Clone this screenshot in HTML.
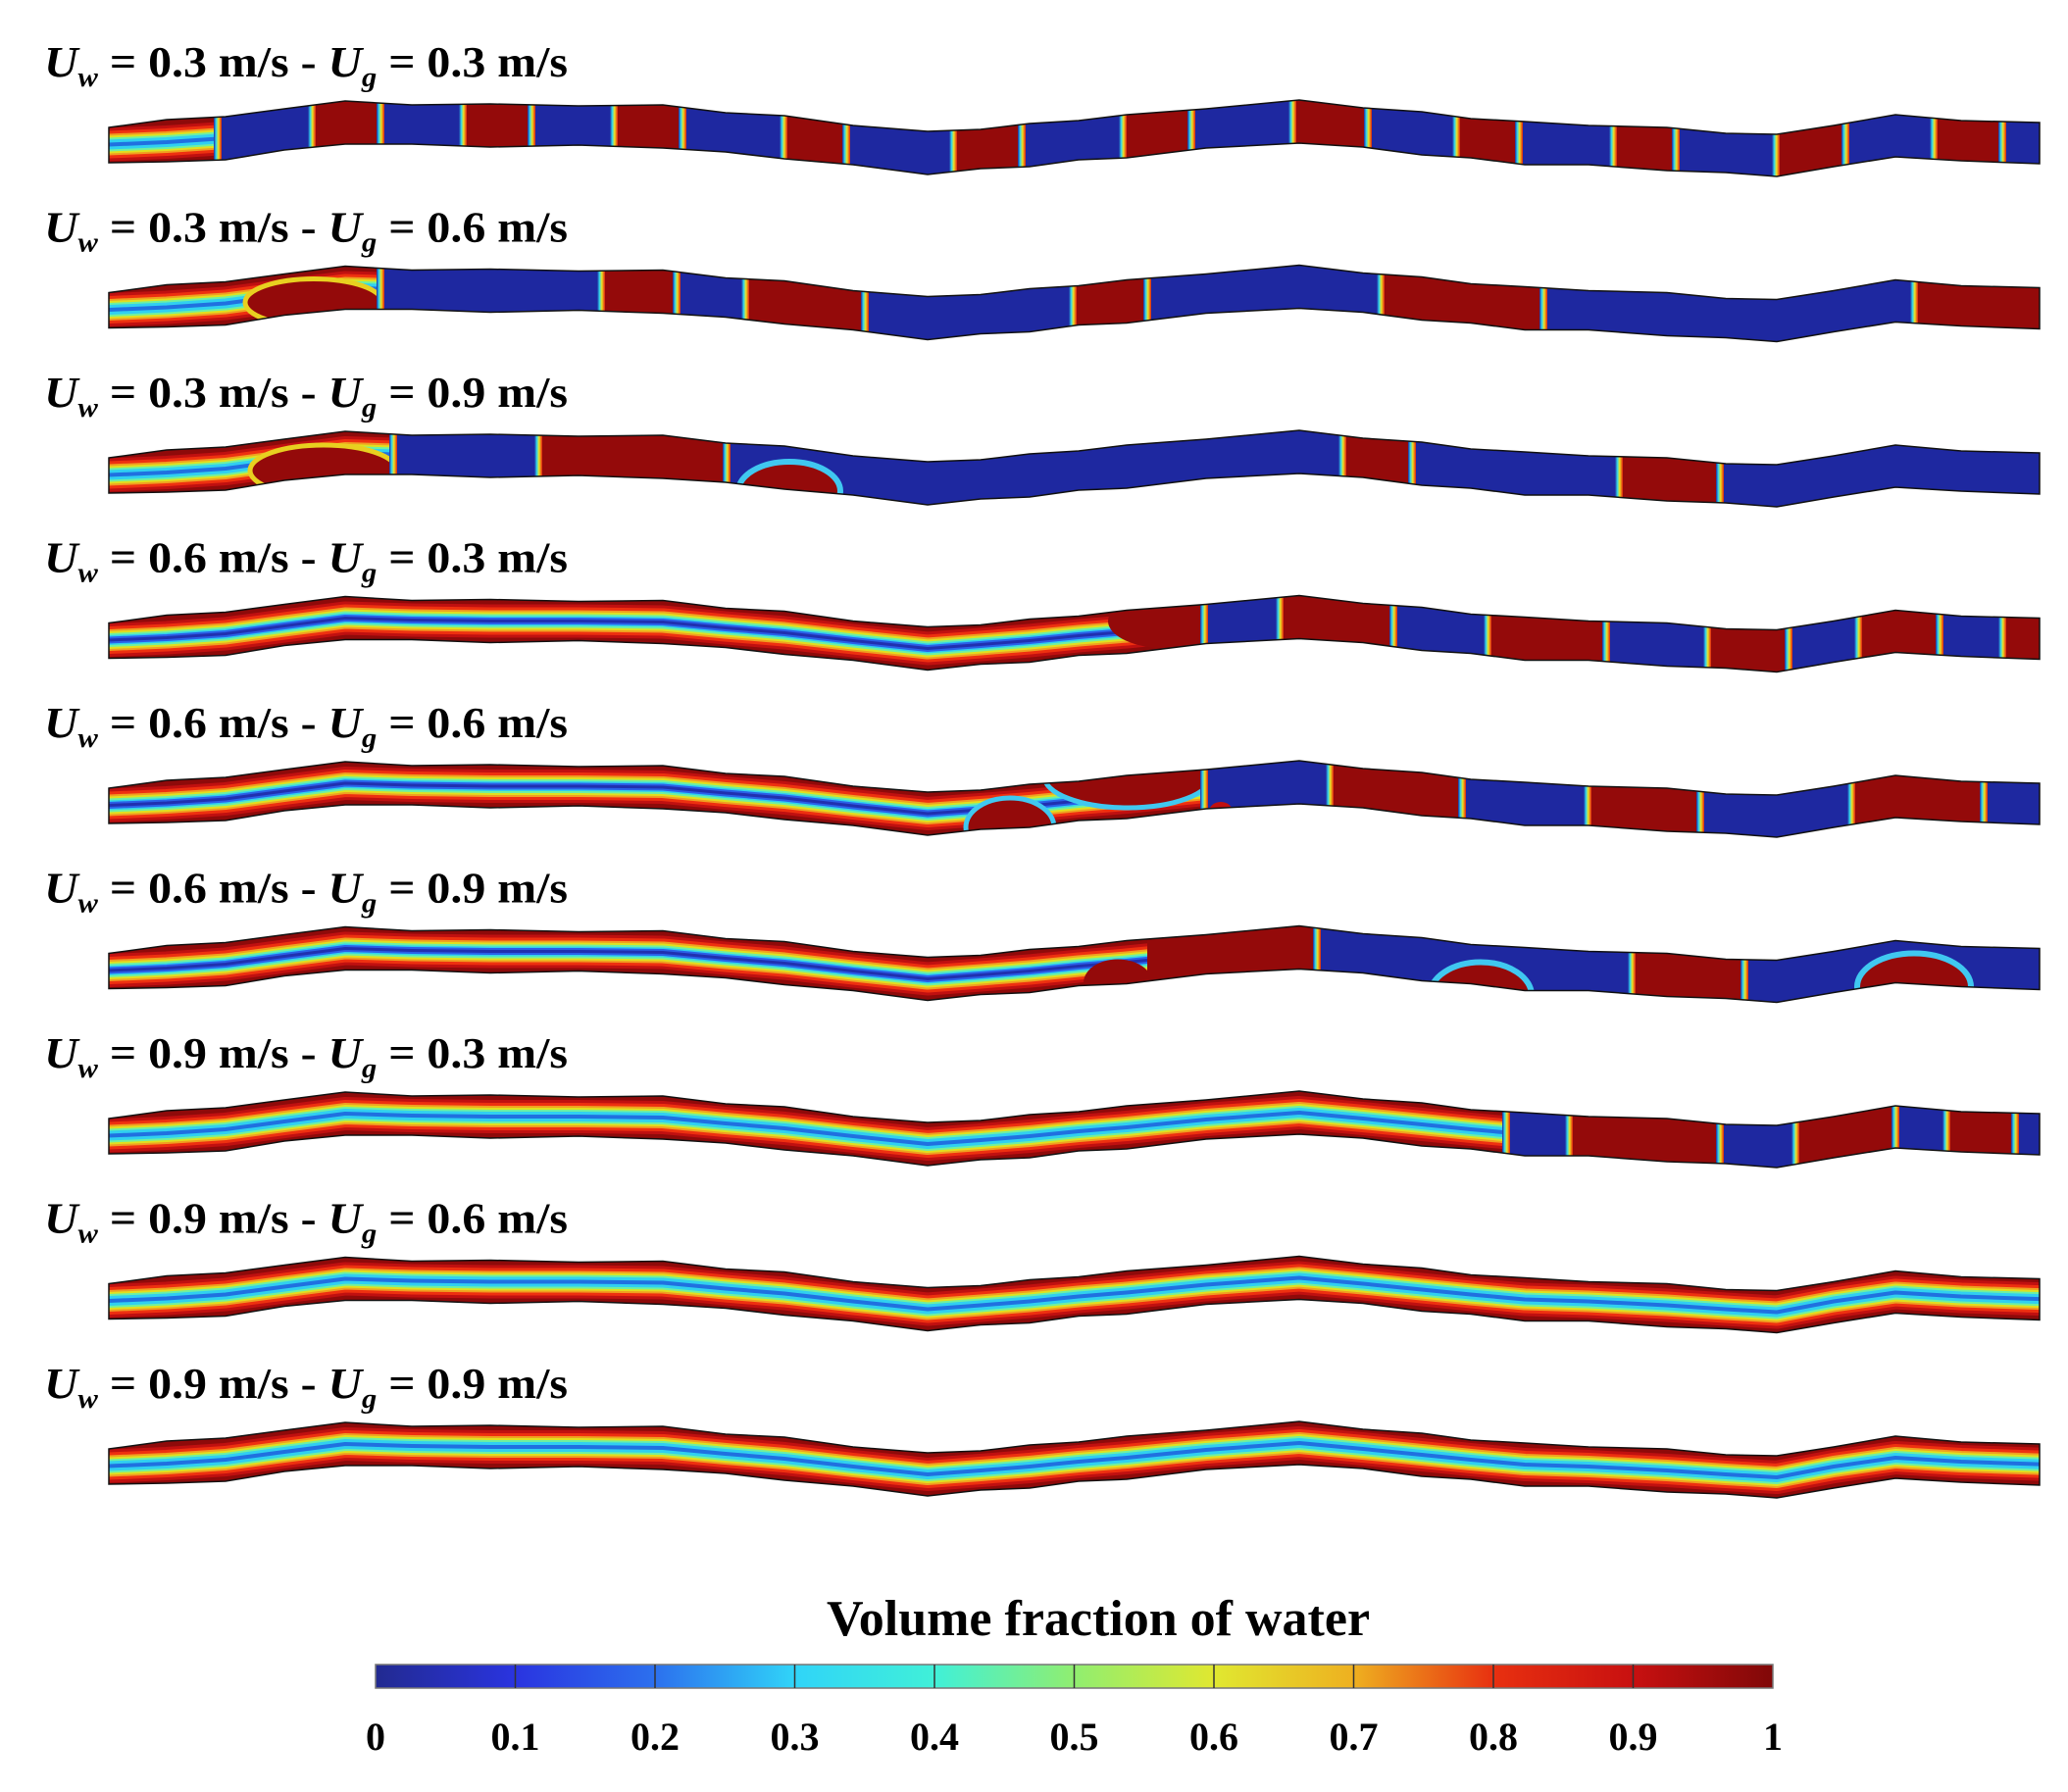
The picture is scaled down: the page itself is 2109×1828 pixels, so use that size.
<!DOCTYPE html>
<html><head><meta charset="utf-8"><style>
html,body{margin:0;padding:0;background:#fff;}
svg{display:block;}
</style></head><body>
<svg width="2109" height="1828" viewBox="0 0 2109 1828" xmlns="http://www.w3.org/2000/svg">
<defs>
<path id="chp" d="M111,52 L170,44 L230,41 L290,33 L352,25 L420,29 L500,28 L590,30 L676,29 L740,37 L800,40 L870,50 L946,56 L1000,54 L1050,48 L1100,45 L1149,39 L1230,33 L1325,24 L1390,32 L1450,36 L1500,43 L1555,46 L1620,50 L1700,52 L1760,58 L1812,59 L1870,50 L1933,39 L2000,45 L2080,47 L2080,89 L2000,86 L1933,82 L1870,92 L1812,102 L1760,98 L1700,96 L1620,90 L1555,90 L1500,83 L1450,80 L1390,72 L1325,68 L1230,73 L1149,83 L1100,85 L1050,92 L1000,94 L946,100 L870,90 L800,84 L740,77 L676,73 L590,70 L500,72 L420,69 L352,69 L290,75 L230,85 L170,87 L111,88 Z"/>
<clipPath id="ch"><use href="#chp"/></clipPath>
<polyline id="cl" fill="none" stroke-linejoin="round" points="100,70 170,67 230,63 290,55 352,47 420,49 500,50 590,50 676,51 740,57 800,62 870,70 946,78 1000,74 1050,70 1100,65 1149,61 1230,53 1325,46 1390,52 1450,58 1500,63 1555,68 1620,70 1700,74 1760,78 1812,81 1870,70 1933,61 2000,65 2090,68"/>
<g id="ann">
<rect x="100" y="0" width="2000" height="120" fill="#8e0a0a"/>
<use href="#cl" stroke="#c01010" stroke-width="34"/>
<use href="#cl" stroke="#ee3010" stroke-width="28"/>
<use href="#cl" stroke="#f0a020" stroke-width="22"/>
<use href="#cl" stroke="#e0e020" stroke-width="18"/>
<use href="#cl" stroke="#70f0a0" stroke-width="14"/>
<use href="#cl" stroke="#30d0f0" stroke-width="10"/>
<use href="#cl" stroke="#2070e0" stroke-width="4"/>
</g>
<g id="annw">
<use href="#ann"/>
<use href="#cl" stroke="#2a60e8" stroke-width="7"/>
<use href="#cl" stroke="#2030b0" stroke-width="3"/>
</g>
<linearGradient id="tr" x1="0" x2="1" y1="0" y2="0">
<stop offset="0" stop-color="#1e28a0"/><stop offset="0.3" stop-color="#30d8f0"/><stop offset="0.6" stop-color="#f0e020"/><stop offset="1" stop-color="#e02010"/>
</linearGradient>
<linearGradient id="jet" x1="0" x2="1" y1="0" y2="0">
<stop offset="0" stop-color="#222a90"/><stop offset="0.1" stop-color="#2a34e0"/><stop offset="0.2" stop-color="#2c70ee"/><stop offset="0.3" stop-color="#30d4f8"/><stop offset="0.4" stop-color="#40f0d8"/><stop offset="0.5" stop-color="#90ee70"/><stop offset="0.6" stop-color="#e0e830"/><stop offset="0.7" stop-color="#eeb020"/><stop offset="0.8" stop-color="#e83010"/><stop offset="0.9" stop-color="#c81010"/><stop offset="1" stop-color="#800808"/>
</linearGradient>
</defs>

<g font-family="'Liberation Serif', serif" font-weight="bold" font-size="44" fill="#000">
<text x="45" y="78" textLength="534" lengthAdjust="spacingAndGlyphs"><tspan font-style="italic">U</tspan><tspan font-style="italic" font-size="28" dy="10">w</tspan><tspan dy="-10"> = 0.3 m/s - </tspan><tspan font-style="italic">U</tspan><tspan font-style="italic" font-size="28" dy="10">g</tspan><tspan dy="-10"> = 0.3 m/s</tspan></text>
<text x="45" y="246.5" textLength="534" lengthAdjust="spacingAndGlyphs"><tspan font-style="italic">U</tspan><tspan font-style="italic" font-size="28" dy="10">w</tspan><tspan dy="-10"> = 0.3 m/s - </tspan><tspan font-style="italic">U</tspan><tspan font-style="italic" font-size="28" dy="10">g</tspan><tspan dy="-10"> = 0.6 m/s</tspan></text>
<text x="45" y="415" textLength="534" lengthAdjust="spacingAndGlyphs"><tspan font-style="italic">U</tspan><tspan font-style="italic" font-size="28" dy="10">w</tspan><tspan dy="-10"> = 0.3 m/s - </tspan><tspan font-style="italic">U</tspan><tspan font-style="italic" font-size="28" dy="10">g</tspan><tspan dy="-10"> = 0.9 m/s</tspan></text>
<text x="45" y="583.5" textLength="534" lengthAdjust="spacingAndGlyphs"><tspan font-style="italic">U</tspan><tspan font-style="italic" font-size="28" dy="10">w</tspan><tspan dy="-10"> = 0.6 m/s - </tspan><tspan font-style="italic">U</tspan><tspan font-style="italic" font-size="28" dy="10">g</tspan><tspan dy="-10"> = 0.3 m/s</tspan></text>
<text x="45" y="752" textLength="534" lengthAdjust="spacingAndGlyphs"><tspan font-style="italic">U</tspan><tspan font-style="italic" font-size="28" dy="10">w</tspan><tspan dy="-10"> = 0.6 m/s - </tspan><tspan font-style="italic">U</tspan><tspan font-style="italic" font-size="28" dy="10">g</tspan><tspan dy="-10"> = 0.6 m/s</tspan></text>
<text x="45" y="920.5" textLength="534" lengthAdjust="spacingAndGlyphs"><tspan font-style="italic">U</tspan><tspan font-style="italic" font-size="28" dy="10">w</tspan><tspan dy="-10"> = 0.6 m/s - </tspan><tspan font-style="italic">U</tspan><tspan font-style="italic" font-size="28" dy="10">g</tspan><tspan dy="-10"> = 0.9 m/s</tspan></text>
<text x="45" y="1089" textLength="534" lengthAdjust="spacingAndGlyphs"><tspan font-style="italic">U</tspan><tspan font-style="italic" font-size="28" dy="10">w</tspan><tspan dy="-10"> = 0.9 m/s - </tspan><tspan font-style="italic">U</tspan><tspan font-style="italic" font-size="28" dy="10">g</tspan><tspan dy="-10"> = 0.3 m/s</tspan></text>
<text x="45" y="1257.5" textLength="534" lengthAdjust="spacingAndGlyphs"><tspan font-style="italic">U</tspan><tspan font-style="italic" font-size="28" dy="10">w</tspan><tspan dy="-10"> = 0.9 m/s - </tspan><tspan font-style="italic">U</tspan><tspan font-style="italic" font-size="28" dy="10">g</tspan><tspan dy="-10"> = 0.6 m/s</tspan></text>
<text x="45" y="1426" textLength="534" lengthAdjust="spacingAndGlyphs"><tspan font-style="italic">U</tspan><tspan font-style="italic" font-size="28" dy="10">w</tspan><tspan dy="-10"> = 0.9 m/s - </tspan><tspan font-style="italic">U</tspan><tspan font-style="italic" font-size="28" dy="10">g</tspan><tspan dy="-10"> = 0.9 m/s</tspan></text>
</g>

<!-- Row 1 -->
<g transform="translate(0,78)">
<g clip-path="url(#ch)">
<use href="#ann"/>
<g fill="#1e28a0">
<rect x="222" y="0" width="96" height="120"/><rect x="388" y="0" width="84" height="120"/><rect x="542" y="0" width="84" height="120"/><rect x="696" y="0" width="103" height="120"/><rect x="863" y="0" width="109" height="120"/><rect x="1042" y="0" width="103" height="120"/><rect x="1215" y="0" width="103" height="120"/><rect x="1395" y="0" width="90" height="120"/><rect x="1549" y="0" width="96" height="120"/><rect x="1709" y="0" width="102" height="120"/><rect x="1882" y="0" width="90" height="120"/><rect x="2042" y="0" width="60" height="120"/>
</g>
<g fill="#940a0a">
<rect x="318" y="0" width="70" height="120"/><rect x="472" y="0" width="70" height="120"/><rect x="626" y="0" width="70" height="120"/><rect x="799" y="0" width="64" height="120"/><rect x="972" y="0" width="70" height="120"/><rect x="1145" y="0" width="70" height="120"/><rect x="1318" y="0" width="77" height="120"/><rect x="1485" y="0" width="64" height="120"/><rect x="1645" y="0" width="64" height="120"/><rect x="1811" y="0" width="71" height="120"/><rect x="1972" y="0" width="70" height="120"/>
</g>
<g fill="url(#tr)">
<rect x="218" y="0" width="8" height="120"/><rect x="314" y="0" width="8" height="120"/><rect x="384" y="0" width="8" height="120"/><rect x="468" y="0" width="8" height="120"/><rect x="538" y="0" width="8" height="120"/><rect x="622" y="0" width="8" height="120"/><rect x="692" y="0" width="8" height="120"/><rect x="795" y="0" width="8" height="120"/><rect x="859" y="0" width="8" height="120"/><rect x="968" y="0" width="8" height="120"/><rect x="1038" y="0" width="8" height="120"/><rect x="1141" y="0" width="8" height="120"/><rect x="1211" y="0" width="8" height="120"/><rect x="1314" y="0" width="8" height="120"/><rect x="1391" y="0" width="8" height="120"/><rect x="1481" y="0" width="8" height="120"/><rect x="1545" y="0" width="8" height="120"/><rect x="1641" y="0" width="8" height="120"/><rect x="1705" y="0" width="8" height="120"/><rect x="1807" y="0" width="8" height="120"/><rect x="1878" y="0" width="8" height="120"/><rect x="1968" y="0" width="8" height="120"/><rect x="2038" y="0" width="8" height="120"/>
</g>
</g>
<use href="#chp" fill="none" stroke="#111" stroke-width="1.5"/>
</g>

<!-- Row 2 -->
<g transform="translate(0,246.5)">
<g clip-path="url(#ch)">
<use href="#ann"/>
<ellipse cx="320" cy="62" rx="70" ry="24" fill="#940a0a" stroke="#e8d020" stroke-width="5"/>
<g fill="#1e28a0">
<rect x="388" y="0" width="225" height="120"/><rect x="690" y="0" width="70" height="120"/><rect x="882" y="0" width="212" height="120"/><rect x="1170" y="0" width="238" height="120"/><rect x="1574" y="0" width="378" height="120"/>
</g>
<g fill="#940a0a">
<rect x="613" y="0" width="77" height="120"/><rect x="760" y="0" width="122" height="120"/><rect x="1094" y="0" width="76" height="120"/><rect x="1408" y="0" width="166" height="120"/><rect x="1952" y="0" width="150" height="120"/>
</g>
<g fill="url(#tr)">
<rect x="384" y="0" width="8" height="120"/><rect x="609" y="0" width="8" height="120"/><rect x="686" y="0" width="8" height="120"/><rect x="756" y="0" width="8" height="120"/><rect x="878" y="0" width="8" height="120"/><rect x="1090" y="0" width="8" height="120"/><rect x="1166" y="0" width="8" height="120"/><rect x="1404" y="0" width="8" height="120"/><rect x="1570" y="0" width="8" height="120"/><rect x="1948" y="0" width="8" height="120"/>
</g>
</g>
<use href="#chp" fill="none" stroke="#111" stroke-width="1.5"/>
</g>

<!-- Row 3 -->
<g transform="translate(0,415)">
<g clip-path="url(#ch)">
<use href="#ann"/>
<ellipse cx="330" cy="65" rx="75" ry="26" fill="#940a0a" stroke="#e8d020" stroke-width="5"/>
<g fill="#1e28a0">
<rect x="401" y="0" width="148" height="120"/><rect x="741" y="0" width="628" height="120"/><rect x="1440" y="0" width="211" height="120"/><rect x="1754" y="0" width="350" height="120"/>
</g>
<g fill="#940a0a">
<rect x="549" y="0" width="192" height="120"/><rect x="1369" y="0" width="71" height="120"/><rect x="1651" y="0" width="103" height="120"/>
</g>
<ellipse cx="805" cy="86" rx="52" ry="30" fill="#940a0a" stroke="#40c8f0" stroke-width="6"/>
<g fill="url(#tr)">
<rect x="397" y="0" width="8" height="120"/><rect x="545" y="0" width="8" height="120"/><rect x="737" y="0" width="8" height="120"/><rect x="1365" y="0" width="8" height="120"/><rect x="1436" y="0" width="8" height="120"/><rect x="1647" y="0" width="8" height="120"/><rect x="1750" y="0" width="8" height="120"/>
</g>
</g>
<use href="#chp" fill="none" stroke="#111" stroke-width="1.5"/>
</g>

<!-- Row 4 -->
<g transform="translate(0,583.5)">
<g clip-path="url(#ch)">
<use href="#annw"/>
<ellipse cx="1190" cy="50" rx="60" ry="28" fill="#940a0a"/>
<g fill="#1e28a0">
<rect x="1228" y="0" width="77" height="120"/><rect x="1421" y="0" width="96" height="120"/><rect x="1638" y="0" width="103" height="120"/><rect x="1824" y="0" width="71" height="120"/><rect x="1978" y="0" width="64" height="120"/>
</g>
<g fill="#940a0a">
<rect x="1305" y="0" width="116" height="120"/><rect x="1517" y="0" width="121" height="120"/><rect x="1741" y="0" width="83" height="120"/><rect x="1895" y="0" width="83" height="120"/><rect x="2042" y="0" width="60" height="120"/>
</g>
<g fill="url(#tr)">
<rect x="1224" y="0" width="8" height="120"/><rect x="1301" y="0" width="8" height="120"/><rect x="1417" y="0" width="8" height="120"/><rect x="1513" y="0" width="8" height="120"/><rect x="1634" y="0" width="8" height="120"/><rect x="1737" y="0" width="8" height="120"/><rect x="1820" y="0" width="8" height="120"/><rect x="1891" y="0" width="8" height="120"/><rect x="1974" y="0" width="8" height="120"/><rect x="2038" y="0" width="8" height="120"/>
</g>
</g>
<use href="#chp" fill="none" stroke="#111" stroke-width="1.5"/>
</g>

<!-- Row 5 -->
<g transform="translate(0,752)">
<g clip-path="url(#ch)">
<use href="#annw"/>
<ellipse cx="1030" cy="92" rx="45" ry="30" fill="#940a0a" stroke="#40c8f0" stroke-width="5"/>
<ellipse cx="1150" cy="40" rx="85" ry="32" fill="#940a0a" stroke="#40c8f0" stroke-width="5"/>
<g fill="#1e28a0">
<rect x="1228" y="0" width="128" height="120"/><rect x="1491" y="0" width="128" height="120"/><rect x="1734" y="0" width="154" height="120"/><rect x="2023" y="0" width="80" height="120"/>
</g>
<ellipse cx="1245" cy="76" rx="12" ry="10" fill="#c01010"/>
<g fill="#940a0a">
<rect x="1356" y="0" width="135" height="120"/><rect x="1619" y="0" width="115" height="120"/><rect x="1888" y="0" width="135" height="120"/>
</g>
<g fill="url(#tr)">
<rect x="1224" y="0" width="8" height="120"/><rect x="1352" y="0" width="8" height="120"/><rect x="1487" y="0" width="8" height="120"/><rect x="1615" y="0" width="8" height="120"/><rect x="1730" y="0" width="8" height="120"/><rect x="1884" y="0" width="8" height="120"/><rect x="2019" y="0" width="8" height="120"/>
</g>
</g>
<use href="#chp" fill="none" stroke="#111" stroke-width="1.5"/>
</g>

<!-- Row 6 -->
<g transform="translate(0,920.5)">
<g clip-path="url(#ch)">
<use href="#annw"/>
<ellipse cx="1140" cy="82" rx="35" ry="24" fill="#940a0a"/>
<g fill="#940a0a"><rect x="1170" y="0" width="173" height="120"/></g>
<g fill="#1e28a0"><rect x="1343" y="0" width="760" height="120"/></g>
<ellipse cx="1510" cy="95" rx="52" ry="34" fill="#940a0a" stroke="#40c8f0" stroke-width="6"/>
<rect x="1664" y="0" width="115" height="120" fill="#940a0a"/>
<ellipse cx="1952" cy="86" rx="58" ry="34" fill="#940a0a" stroke="#40c8f0" stroke-width="6"/>
<g fill="url(#tr)">
<rect x="1339" y="0" width="8" height="120"/><rect x="1660" y="0" width="8" height="120"/><rect x="1775" y="0" width="8" height="120"/>
</g>
</g>
<use href="#chp" fill="none" stroke="#111" stroke-width="1.5"/>
</g>

<!-- Row 7 -->
<g transform="translate(0,1089)">
<g clip-path="url(#ch)">
<use href="#ann"/>
<g fill="#1e28a0">
<rect x="1536" y="0" width="64" height="120"/><rect x="1754" y="0" width="77" height="120"/><rect x="1933" y="0" width="52" height="120"/><rect x="2055" y="0" width="50" height="120"/>
</g>
<g fill="#940a0a">
<rect x="1600" y="0" width="154" height="120"/><rect x="1831" y="0" width="102" height="120"/><rect x="1985" y="0" width="70" height="120"/>
</g>
<g fill="url(#tr)">
<rect x="1532" y="0" width="8" height="120"/><rect x="1596" y="0" width="8" height="120"/><rect x="1750" y="0" width="8" height="120"/><rect x="1827" y="0" width="8" height="120"/><rect x="1929" y="0" width="8" height="120"/><rect x="1981" y="0" width="8" height="120"/><rect x="2051" y="0" width="8" height="120"/>
</g>
</g>
<use href="#chp" fill="none" stroke="#111" stroke-width="1.5"/>
</g>

<!-- Row 8 -->
<g transform="translate(0,1257.5)">
<g clip-path="url(#ch)"><use href="#ann"/></g>
<use href="#chp" fill="none" stroke="#111" stroke-width="1.5"/>
</g>

<!-- Row 9 -->
<g transform="translate(0,1426)">
<g clip-path="url(#ch)"><use href="#ann"/></g>
<use href="#chp" fill="none" stroke="#111" stroke-width="1.5"/>
</g>

<!-- Colorbar -->
<text x="1120" y="1668" text-anchor="middle" font-family="'Liberation Serif', serif" font-weight="bold" font-size="52">Volume fraction of water</text>
<rect x="383" y="1698" width="1425" height="24" fill="url(#jet)" stroke="#777" stroke-width="1.5"/>
<g stroke="#333" stroke-width="1.5">
<line x1="525.5" y1="1698" x2="525.5" y2="1722"/><line x1="668" y1="1698" x2="668" y2="1722"/><line x1="810.5" y1="1698" x2="810.5" y2="1722"/><line x1="953" y1="1698" x2="953" y2="1722"/><line x1="1095.5" y1="1698" x2="1095.5" y2="1722"/><line x1="1238" y1="1698" x2="1238" y2="1722"/><line x1="1380.5" y1="1698" x2="1380.5" y2="1722"/><line x1="1523" y1="1698" x2="1523" y2="1722"/><line x1="1665.5" y1="1698" x2="1665.5" y2="1722"/>
</g>
<g font-family="'Liberation Serif', serif" font-weight="bold" font-size="40" text-anchor="middle">
<text x="383" y="1785">0</text><text x="525.5" y="1785">0.1</text><text x="668" y="1785">0.2</text><text x="810.5" y="1785">0.3</text><text x="953" y="1785">0.4</text><text x="1095.5" y="1785">0.5</text><text x="1238" y="1785">0.6</text><text x="1380.5" y="1785">0.7</text><text x="1523" y="1785">0.8</text><text x="1665.5" y="1785">0.9</text><text x="1808" y="1785">1</text>
</g>
</svg>
</body></html>
